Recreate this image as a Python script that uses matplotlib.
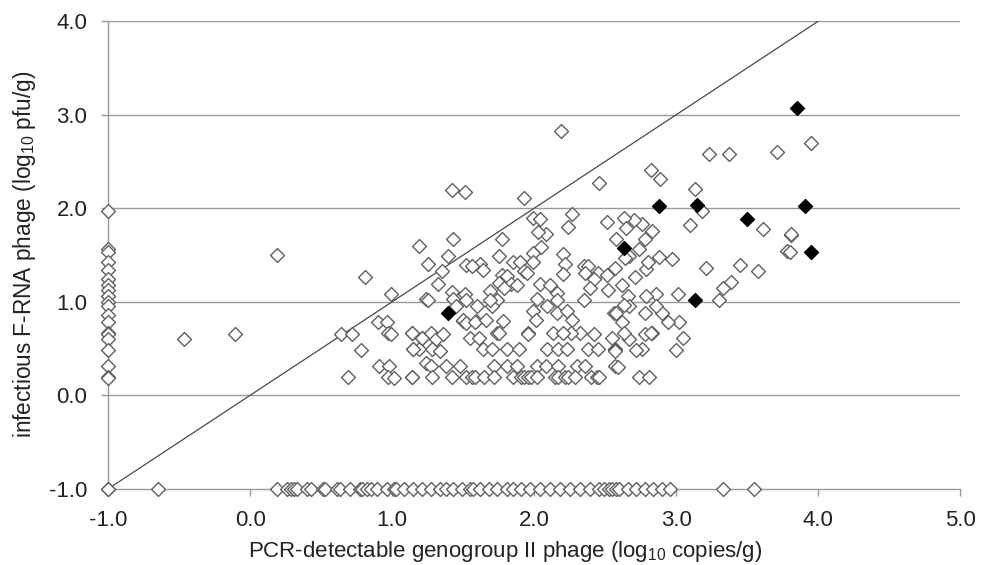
import matplotlib
matplotlib.use("Agg")
import matplotlib.pyplot as plt

plt.rcParams['font.family'] = ['Liberation Sans', 'DejaVu Sans']

# ---- data (log10 values) ----
x_open = [
    # PCR-negative column (x = -1)
    -1.0, -1.0, -1.0, -1.0, -1.0, -1.0, -1.0, -1.0, -1.0, -1.0, -1.0,
    -1.0, -1.0, -1.0, -1.0, -1.0, -1.0, -1.0, -1.0, -1.0, -1.0, -1.0,
    # isolated low-x points
    -0.47, -0.11, 0.19, 0.81, 0.64, 0.72, 0.78, 0.69, 0.90, 0.96, 0.97, 0.99,
    0.91, 0.98, 0.97, 1.01, 0.99, 1.14, 1.15, 1.19, 1.21, 1.14, 1.24, 1.19, 1.24,
    # main cluster (x 1.1 - 2.6)
    2.19, 1.42, 1.51, 1.93, 2.46, 2.27, 2.24, 2.51, 1.99, 2.04, 2.08, 2.03,
    2.05, 1.99, 2.20, 2.22, 2.20, 1.43, 1.77, 1.75, 1.39, 1.25, 1.35, 1.52,
    1.62, 1.64, 1.56, 1.32, 1.25, 1.42, 1.51, 1.43, 1.85, 1.90, 1.93, 1.99,
    1.95, 1.77, 1.81, 1.84, 1.75, 1.88, 1.79, 1.74, 1.69, 1.70, 2.04, 2.11,
    2.02, 2.16, 2.09, 1.99, 2.01, 2.16, 1.78, 1.74, 1.96, 1.59, 1.50, 2.35,
    2.38, 2.36, 2.45, 2.42, 2.39, 2.51, 2.35, 2.52, 2.56, 2.23, 2.27, 2.32,
    2.26, 2.42, 2.55, 1.14, 1.21, 1.27, 1.31, 1.50, 1.52, 1.58, 1.55, 1.61,
    1.75, 1.96, 2.13, 2.20, 1.15, 1.28, 1.34, 1.64, 1.70, 1.81, 1.89, 2.09,
    2.17, 2.23, 2.38, 2.45, 2.57, 1.27, 1.38, 1.72, 1.81, 1.88, 2.02, 2.08,
    2.17, 2.30, 2.36, 2.57, 1.14, 1.28, 1.42, 1.52, 1.56, 1.58, 1.65, 1.72,
    1.85, 1.91, 1.93, 1.96, 1.98, 2.02, 2.15, 2.17, 2.22, 2.24, 2.29, 2.40,
    2.44, 2.46, 1.52, 1.69, 2.16, 1.60, 1.66, 1.45, 1.36, 1.48,
    # upper-right cluster (x 2.5 - 4.0)
    3.23, 3.37, 3.71, 2.82, 2.89, 3.13, 3.18, 3.10, 3.61, 3.81, 3.78, 2.88,
    2.97, 3.21, 3.45, 3.58, 3.39, 3.33, 3.30, 3.01, 2.86, 3.02, 3.05, 3.00,
    2.94, 2.90, 2.59, 2.74, 2.81, 2.83, 2.76, 2.72, 2.57, 2.78, 2.79, 2.62,
    2.71, 2.79, 2.57, 2.74, 2.83, 2.76, 2.70, 2.63, 2.65, 2.78, 2.58, 2.67,
    2.80, 2.64, 2.66, 2.67, 2.63, 2.58, 2.78, 2.62, 2.67, 2.63, 2.57, 2.82,
    2.86, 3.95, 3.81, 3.80,
    # PCR-positive, infectivity-negative row (y = -1)
    -0.65, 0.19, 0.26, 0.29, 0.31, 0.33, 0.40, 0.43, 0.51, 0.53, 0.61, 0.63,
    0.70, 0.77, 0.79, 0.82, 0.85, 0.89, 0.96, 1.01, 1.03, 1.08, 1.15, 1.21,
    1.27, 1.34, 1.38, 1.43, 1.49, 1.55, 1.57, 1.62, 1.68, 1.74, 1.81, 1.85,
    1.91, 1.97, 2.04, 2.11, 2.18, 2.25, 2.32, 2.39, 2.46, 2.49, 2.53, 2.55,
    2.58, 2.60, 2.66, 2.72, 2.78, 2.84, 2.90, 2.96, 3.33, 3.55,
]
y_open = [
    1.97, 1.56, 1.53, 1.42, 1.34, 1.24, 1.18, 1.13, 1.06, 1.00, 0.95,
    0.86, 0.78, 0.67, 0.65, 0.60, 0.48, 0.31, 0.19, 0.18, -1.0, -1.0,
    0.60, 0.66, 1.50, 1.27, 0.66, 0.66, 0.48, 0.19, 0.78, 0.78, 0.67, 0.66,
    0.31, 0.31, 0.19, 0.18, 1.08, 0.67, 0.49, 0.49, 0.61, 0.19, 0.35, 1.60, 1.03,
    2.83, 2.20, 2.17, 2.11, 2.27, 1.94, 1.80, 1.85, 1.90, 1.88, 1.72, 1.75,
    1.59, 1.52, 1.51, 1.40, 1.30, 1.67, 1.67, 1.49, 1.49, 1.40, 1.33, 1.39,
    1.40, 1.34, 1.38, 1.19, 1.02, 1.10, 1.08, 1.03, 1.42, 1.42, 1.33, 1.42,
    1.31, 1.29, 1.28, 1.19, 1.20, 1.18, 1.15, 1.02, 1.11, 0.95, 1.19, 1.18,
    1.03, 1.09, 0.95, 0.90, 0.80, 0.88, 0.79, 0.67, 0.67, 0.79, 0.79, 1.38,
    1.38, 1.31, 1.31, 1.24, 1.15, 1.29, 1.02, 1.13, 0.88, 0.90, 0.80, 0.67,
    0.67, 0.65, 0.61, 0.67, 0.61, 0.67, 0.60, 0.80, 0.77, 0.78, 0.61, 0.61,
    0.67, 0.65, 0.67, 0.67, 0.49, 0.49, 0.47, 0.49, 0.49, 0.49, 0.49, 0.49,
    0.49, 0.49, 0.49, 0.49, 0.49, 0.31, 0.31, 0.31, 0.31, 0.31, 0.31, 0.31,
    0.31, 0.31, 0.31, 0.31, 0.19, 0.19, 0.19, 0.19, 0.19, 0.19, 0.19, 0.19,
    0.19, 0.19, 0.19, 0.19, 0.19, 0.19, 0.19, 0.19, 0.19, 0.19, 0.19, 0.19,
    0.19, 0.19, 1.02, 1.02, 1.02, 0.95, 0.80, 0.95, 0.65, 0.31,
    2.58, 2.58, 2.60, 2.41, 2.31, 2.21, 1.97, 1.82, 1.78, 1.71, 1.54, 1.48,
    1.46, 1.36, 1.39, 1.33, 1.21, 1.15, 1.02, 1.08, 1.08, 0.78, 0.61, 0.48,
    0.78, 0.88, 0.30, 0.19, 0.19, 0.67, 0.49, 0.48, 0.48, 0.88, 1.06, 1.18,
    1.27, 1.35, 1.36, 1.56, 1.76, 1.83, 1.87, 1.90, 1.79, 1.67, 1.67, 1.49,
    1.42, 1.47, 1.06, 0.95, 0.96, 0.88, 0.65, 0.78, 0.60, 0.67, 0.47, 0.67,
    0.95, 2.70, 1.72, 1.53,
    -1.0, -1.0, -1.0, -1.0, -1.0, -1.0, -1.0, -1.0, -1.0, -1.0, -1.0, -1.0,
    -1.0, -1.0, -1.0, -1.0, -1.0, -1.0, -1.0, -1.0, -1.0, -1.0, -1.0, -1.0,
    -1.0, -1.0, -1.0, -1.0, -1.0, -1.0, -1.0, -1.0, -1.0, -1.0, -1.0, -1.0,
    -1.0, -1.0, -1.0, -1.0, -1.0, -1.0, -1.0, -1.0, -1.0, -1.0, -1.0, -1.0,
    -1.0, -1.0, -1.0, -1.0, -1.0, -1.0, -1.0, -1.0, -1.0, -1.0,
]
x_filled = [3.85, 2.88, 3.15, 3.50, 3.91, 3.95, 2.63, 3.13, 1.39]
y_filled = [3.07, 2.02, 2.03, 1.89, 2.02, 1.53, 1.58, 1.02, 0.88]

x_ticks = [-1.0, 0.0, 1.0, 2.0, 3.0, 4.0, 5.0]
y_ticks = [-1.0, 0.0, 1.0, 2.0, 3.0, 4.0]
line_x = [-1.0, 4.0]
line_y = [-1.0, 4.0]

fig = plt.figure(figsize=(9.89, 5.65), dpi=100)
ax = fig.add_axes([0.1095, 0.135, 0.8612, 0.8273])

ax.set_xlim(-1.0, 5.0)
ax.set_ylim(-1.0, 4.0)

grid_c = '#9a9a9a'
for yt in y_ticks[1:]:
    ax.axhline(yt, color=grid_c, lw=1.0, zorder=1)

ax.plot(line_x, line_y, color='#4a4a4a', lw=0.9, zorder=2)

ax.scatter(x_open, y_open, marker='D', s=50, facecolors='white',
           edgecolors='#606060', linewidths=1.0, zorder=3, clip_on=False)
ax.scatter(x_filled, y_filled, marker='D', s=50, facecolors='black',
           edgecolors='black', linewidths=1.0, zorder=4, clip_on=False)

for side in ['top', 'right']:
    ax.spines[side].set_visible(False)
for side in ['left', 'bottom']:
    ax.spines[side].set_color(grid_c)
    ax.spines[side].set_linewidth(1.0)

ax.set_xticks(x_ticks)
ax.set_yticks(y_ticks)
ax.set_xticklabels([f'{v:.1f}' for v in x_ticks])
ax.set_yticklabels([f'{v:.1f}' for v in y_ticks])
ax.tick_params(axis='both', direction='out', length=5, width=1.0,
               color=grid_c, labelsize=16, labelcolor='#222222', pad=10)

ax.set_xlabel(r'PCR-detectable genogroup II phage (log$_{\mathregular{10}}$ copies/g)',
              fontsize=16, color='#222222')
ax.xaxis.set_label_coords(0.466, -0.108)
ax.set_ylabel(r'infectious F-RNA phage (log$_{\mathregular{10}}$ pfu/g)',
              fontsize=16.3, color='#222222')
ax.yaxis.set_label_coords(-0.0825, 0.502)

fig.savefig('out.png', dpi=100, facecolor='white')
